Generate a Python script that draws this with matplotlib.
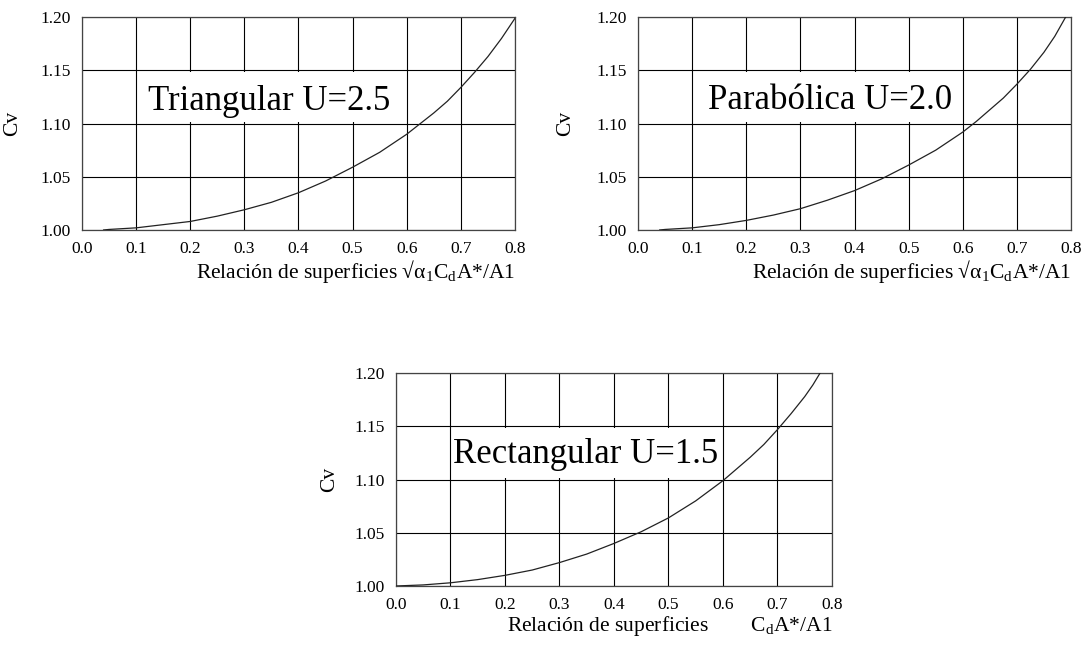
import matplotlib
matplotlib.use("Agg")
import matplotlib.pyplot as plt
from matplotlib.patches import Rectangle

plt.rcParams["font.family"] = ["Liberation Serif", "DejaVu Serif"]

# Cv against the area ratio, one curve per section shape
x_tri = [0.04, 0.05, 0.10, 0.15, 0.20, 0.25, 0.30, 0.35, 0.40, 0.45, 0.50,
         0.55, 0.60, 0.625, 0.65, 0.675, 0.70, 0.725, 0.75, 0.775, 0.80]
cv_tri = [1.000, 1.0005, 1.002, 1.005, 1.008, 1.013, 1.019, 1.026, 1.035, 1.046, 1.059,
          1.073, 1.090, 1.100, 1.110, 1.121, 1.134, 1.148, 1.163, 1.180, 1.199]

x_par = [0.04, 0.05, 0.10, 0.15, 0.20, 0.25, 0.30, 0.35, 0.40, 0.45, 0.50,
         0.55, 0.60, 0.625, 0.65, 0.675, 0.70, 0.725, 0.75, 0.77, 0.79]
cv_par = [1.000, 1.0005, 1.002, 1.005, 1.009, 1.014, 1.020, 1.028, 1.037, 1.048, 1.061,
          1.075, 1.092, 1.102, 1.113, 1.124, 1.137, 1.151, 1.167, 1.182, 1.200]

x_rec = [0.00, 0.05, 0.10, 0.15, 0.20, 0.25, 0.30, 0.35, 0.40, 0.45, 0.50,
         0.55, 0.60, 0.625, 0.65, 0.675, 0.70, 0.725, 0.75, 0.765, 0.778]
cv_rec = [1.000, 1.001, 1.003, 1.006, 1.010, 1.015, 1.022, 1.030, 1.040, 1.051, 1.064,
          1.080, 1.099, 1.110, 1.121, 1.133, 1.147, 1.162, 1.178, 1.189, 1.200]

titles = ["Triangular U=2.5", "Parabólica U=2.0", "Rectangular U=1.5"]
xlabels = [
    "Relación de superficies √α$_\\mathregular{1}$C$_\\mathregular{d}$A*/A1",
    "Relación de superficies √α$_\\mathregular{1}$C$_\\mathregular{d}$A*/A1",
    "Relación de superficies        C$_\\mathregular{d}$A*/A1",
]
xticks = [0.0, 0.1, 0.2, 0.3, 0.4, 0.5, 0.6, 0.7, 0.8]
yticks = [1.00, 1.05, 1.10, 1.15, 1.20]

fig = plt.figure(figsize=(10.84, 6.46), dpi=100)
rects = [
    [0.0756, 0.6440, 0.3995, 0.3294],
    [0.5886, 0.6440, 0.3994, 0.3294],
    [0.3653, 0.0929, 0.4022, 0.3294],
]
curves = [(x_tri, cv_tri), (x_par, cv_par), (x_rec, cv_rec)]
text_pos = [(0.122, 1.113), (0.129, 1.114), (0.105, 1.116)]
ylabel_x = [-0.139, -0.145, -0.13]

for i, rect in enumerate(rects):
    ax = fig.add_axes(rect)
    xs, ys = curves[i]
    ax.plot(xs, ys, color="#222222", lw=0.9, zorder=3)
    ax.set_xlim(0, 0.8)
    ax.set_ylim(1.0, 1.2)
    ax.set_xticks(xticks)
    ax.set_yticks(yticks)
    ax.set_xticklabels([f"{v:.1f}" for v in xticks])
    ax.set_yticklabels([f"{v:.2f}" for v in yticks])
    ax.tick_params(length=0, labelsize=12.5)
    ax.tick_params(axis="x", pad=8)
    ax.tick_params(axis="y", pad=8)
    ax.set_axisbelow(True)
    ax.grid(True, color="black", lw=0.8)
    for s in ax.spines.values():
        s.set_color("#444444")
        s.set_linewidth(0.9)

    # white label box sitting between the grid lines
    ax.add_patch(Rectangle((0.103, 1.1015), 0.494, 0.047, fc="white",
                           ec="none", zorder=1))
    tx, ty = text_pos[i]
    ax.text(tx, ty, titles[i], fontsize=25, va="baseline", ha="left", zorder=4)

    ax.set_xlabel(xlabels[i], fontsize=15.5, loc="right", labelpad=1)
    ax.set_ylabel("Cv", fontsize=15.5)
    ax.yaxis.set_label_coords(ylabel_x[i], 0.5)

fig.savefig("out.png", dpi=100)
